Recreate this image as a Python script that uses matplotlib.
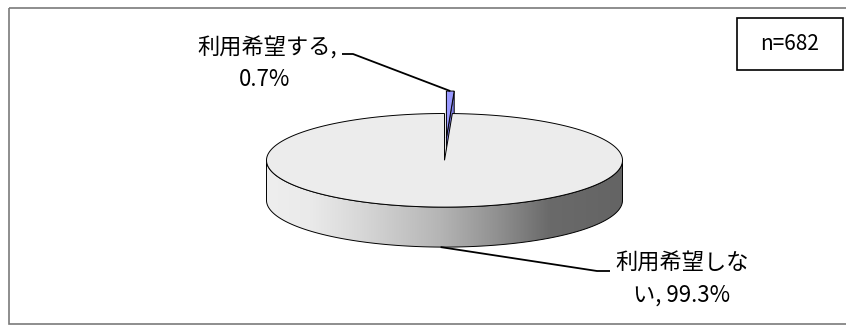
import numpy as np
import matplotlib
matplotlib.use("Agg")
import matplotlib.pyplot as plt
from matplotlib.patches import Polygon, Rectangle
from matplotlib.colors import LinearSegmentedColormap

# --- data -----------------------------------------------------------------
labels = ["利用希望する", "利用希望しない"]
shares = [0.7, 99.3]          # percent
sample_size = 682
wrap_at = [7, 6]              # character index where each label wraps

plt.rcParams['font.family'] = ['Noto Sans CJK JP', 'DejaVu Sans']

W, H = 846, 325
fig = plt.figure(figsize=(W / 100, H / 100), dpi=100)
ax = fig.add_axes([0, 0, 1, 1])

# pie geometry (pixel space, y grows downward)
cx, cy = 444.5, 160.3
rx, ry = 178.0, 46.8
depth = 40.0
explode = [0.48, 0.0]

top_color = ["#9999ff", "#ececec"]
cut_color = "#7f7fe6"
edge_kw = dict(edgecolor="black", linewidth=0.7)


def pt(theta, dx=0.0, dy=0.0, drop=0.0):
    t = np.radians(theta)
    return np.array([cx + dx + rx * np.cos(t), cy + dy - ry * np.sin(t) + drop])


def arc(t1, t2, dx=0.0, dy=0.0, drop=0.0, n=200):
    return np.array([pt(t, dx, dy, drop) for t in np.linspace(t1, t2, n)])


# slice angle bounds, clockwise from 12 o'clock
cum = np.concatenate([[0], np.cumsum(shares)])
bounds = 90 - 360 * cum / cum[-1]

anchors = []

# --- small exploded slice (drawn first, it sits behind) ---------------------
t1, t2 = bounds[0], bounds[1]
mid = (t1 + t2) / 2
dx = explode[0] * rx * np.cos(np.radians(mid))
dy = -explode[0] * ry * np.sin(np.radians(mid))
apex = np.array([cx + dx, cy + dy])
r1, r2 = pt(t1, dx, dy), pt(t2, dx, dy)
down = np.array([0, depth])
ax.add_patch(Polygon([apex, r1, r1 + down, apex + down], closed=True,
                     facecolor=cut_color, **edge_kw))
ax.add_patch(Polygon([apex, r2, r2 + down, apex + down], closed=True,
                     facecolor=cut_color, **edge_kw))
ax.add_patch(Polygon(np.vstack([[apex], arc(t1, t2, dx, dy, n=20)]), closed=True,
                     facecolor=top_color[0], **edge_kw))
anchors.append(pt(mid, dx, dy))

# --- large slice -----------------------------------------------------------
t1, t2 = bounds[1], bounds[2]
front_top = arc(180, 360)
front_bot = arc(360, 180, drop=depth)
side = Polygon(np.vstack([front_top, front_bot]), closed=True,
               facecolor="none", **edge_kw)
ax.add_patch(side)

shade = LinearSegmentedColormap.from_list(
    "side_shade",
    [(0.0, "#eeeeee"), (0.12, "#eaeaea"), (0.26, "#d8d8d8"), (0.485, "#b5b5b5"),
     (0.65, "#909090"), (0.795, "#6a6a6a"), (1.0, "#646464")])
grad = ax.imshow(np.linspace(0, 1, 512)[None, :], cmap=shade, aspect="auto",
                 extent=(cx - rx, cx + rx, cy + ry + depth + 2, cy - 2),
                 origin="upper", interpolation="bilinear", zorder=1)
grad.set_clip_path(side)
side.set_zorder(2)

top = Polygon(np.vstack([[cx, cy], arc(t1, t2, n=600)]), closed=True,
              facecolor=top_color[1], zorder=3, **edge_kw)
ax.add_patch(top)
mid = (t1 + t2) / 2
anchors.append(pt(mid, drop=depth))

# --- leader lines and labels ------------------------------------------------
line_kw = dict(color="black", linewidth=1.3, solid_capstyle="butt", zorder=5)
leader_paths = [
    [(342, 54), (353, 54), tuple(anchors[0])],
    [tuple(anchors[1]), (597, 271), (610, 271)],
]
for path in leader_paths:
    xs, ys = zip(*path)
    ax.plot(xs, ys, **line_kw)

label_pos = [((267, 48), (265, 80)), ((682, 263), (682, 295))]
for name, val, cut, (p1, p2) in zip(labels, shares, wrap_at, label_pos):
    full = f"{name}, {val:.1f}%"
    first, second = full[:cut].rstrip(), full[cut:].lstrip()
    ax.text(*p1, first, fontsize=16, ha="center", va="center", zorder=6)
    ax.text(*p2, second, fontsize=16, ha="center", va="center", zorder=6)

# sample size box
ax.add_patch(Rectangle((737, 18), 106, 52, facecolor="white",
                       edgecolor="black", linewidth=1.2, zorder=6))
ax.text(790, 44, f"n={sample_size}", fontsize=15, ha="center", va="center", zorder=7)

# outer chart frame
ax.add_patch(Rectangle((8.5, 7.5), 860, 316.5, facecolor="none",
                       edgecolor="#7a7a7a", linewidth=1.2, zorder=8))

ax.set_xlim(0, W)
ax.set_ylim(H, 0)
ax.axis("off")
fig.savefig("out.png", dpi=100)
